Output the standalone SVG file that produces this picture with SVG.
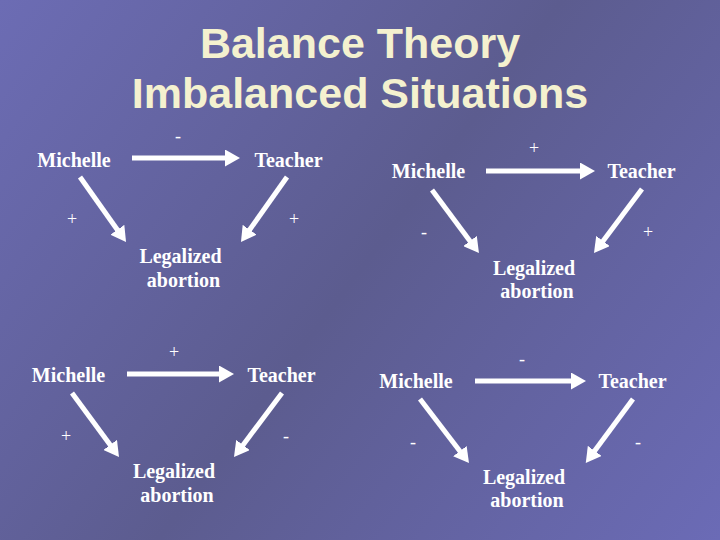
<svg xmlns="http://www.w3.org/2000/svg" width="720" height="540" viewBox="0 0 720 540">
<defs>
<linearGradient id="bg" x1="0" y1="0" x2="720" y2="540" gradientUnits="userSpaceOnUse">
<stop offset="0" stop-color="#6c6cb4"/>
<stop offset="0.5" stop-color="#5c5c8f"/>
<stop offset="1" stop-color="#6b6bb6"/>
</linearGradient>
<marker id="ah" markerUnits="userSpaceOnUse" markerWidth="15" markerHeight="17" viewBox="0 0 15 17" refX="3" refY="8.5" orient="auto">
<path d="M0,0 L15,8.5 L0,17 z" fill="#ffffff"/>
</marker>
<style>
.title{font-family:"Liberation Sans",Arial,sans-serif;font-weight:bold;font-size:43px;fill:#f4f1cf;text-anchor:middle}
.node{font-family:"Liberation Serif","Times New Roman",serif;font-weight:bold;font-size:20px;fill:#ffffff;text-anchor:middle}
.sign{font-family:"Liberation Serif","Times New Roman",serif;font-size:18px;fill:#ffffff;text-anchor:middle}
.arrow{stroke:#ffffff;stroke-width:5;fill:none;marker-end:url(#ah)}
</style>
</defs>
<rect width="720" height="540" fill="url(#bg)"/>
<g id="title">
<text class="title" x="360" y="58">Balance Theory</text>
<text class="title" x="360" y="108">Imbalanced Situations</text>
</g>
<g id="connectors">
<line class="arrow" x1="132" y1="158" x2="228" y2="158"/>
<line class="arrow" x1="80" y1="177" x2="119.1" y2="232.2"/>
<line class="arrow" x1="287" y1="177" x2="247.9" y2="232.2"/>
<line class="arrow" x1="486" y1="171" x2="583" y2="171"/>
<line class="arrow" x1="432" y1="190" x2="471.8" y2="243.4"/>
<line class="arrow" x1="642" y1="189" x2="601.2" y2="243.4"/>
<line class="arrow" x1="127" y1="374" x2="222" y2="374"/>
<line class="arrow" x1="72" y1="393" x2="111.9" y2="447.3"/>
<line class="arrow" x1="282" y1="393" x2="241.2" y2="447.4"/>
<line class="arrow" x1="475" y1="381" x2="574" y2="381"/>
<line class="arrow" x1="420" y1="399" x2="461.7" y2="453.5"/>
<line class="arrow" x1="633" y1="399" x2="592.9" y2="453.3"/>
</g>
<g id="signs">
<text class="sign" x="178" y="142">-</text>
<text class="sign" x="72" y="225">+</text>
<text class="sign" x="294" y="225">+</text>
<text class="sign" x="534" y="154">+</text>
<text class="sign" x="424" y="238">-</text>
<text class="sign" x="648" y="238">+</text>
<text class="sign" x="174" y="358">+</text>
<text class="sign" x="66" y="442">+</text>
<text class="sign" x="286" y="442">-</text>
<text class="sign" x="522" y="365">-</text>
<text class="sign" x="413" y="448">-</text>
<text class="sign" x="638" y="448">-</text>
</g>
<g id="tl-michelle"><text class="node" x="74" y="167">Michelle</text></g>
<g id="tl-teacher"><text class="node" x="288.5" y="167">Teacher</text></g>
<g id="tl-abortion"><text class="node" x="180.5" y="263">Legalized</text><text class="node" x="183.5" y="287">abortion</text></g>
<g id="tr-michelle"><text class="node" x="428.5" y="178">Michelle</text></g>
<g id="tr-teacher"><text class="node" x="641.5" y="178">Teacher</text></g>
<g id="tr-abortion"><text class="node" x="534" y="275">Legalized</text><text class="node" x="537" y="298">abortion</text></g>
<g id="bl-michelle"><text class="node" x="68.5" y="382">Michelle</text></g>
<g id="bl-teacher"><text class="node" x="281.5" y="382">Teacher</text></g>
<g id="bl-abortion"><text class="node" x="174" y="478">Legalized</text><text class="node" x="177" y="502">abortion</text></g>
<g id="br-michelle"><text class="node" x="416" y="388">Michelle</text></g>
<g id="br-teacher"><text class="node" x="632.5" y="388">Teacher</text></g>
<g id="br-abortion"><text class="node" x="524" y="484">Legalized</text><text class="node" x="527" y="507">abortion</text></g>
</svg>
